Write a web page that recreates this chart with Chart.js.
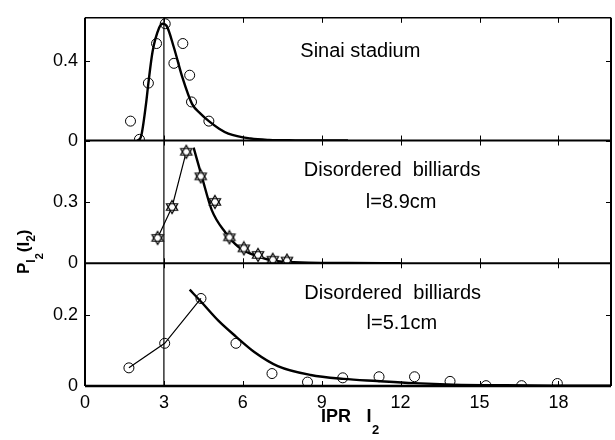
<!DOCTYPE html>
<html>
<head>
<meta charset="utf-8">
<script src="https://cdn.jsdelivr.net/npm/chart.js@4.4.1/dist/chart.umd.min.js"></script>
<style>
  html, body { margin: 0; padding: 0; background: #fff; overflow: hidden; }
  #wrap { width: 618px; height: 440px; }
</style>
</head>
<body>
<div id="wrap"><canvas id="myChart"></canvas></div>
<script>
// x axis
const xTicks = [0, 3, 6, 9, 12, 15, 18];

// Sinai stadium (top panel)
const sinaiX = [1.73, 2.07, 2.41, 2.72, 3.05, 3.38, 3.72, 3.98, 4.05, 4.71];
const sinaiY = [0.098, 0.006, 0.29, 0.49, 0.59, 0.39, 0.49, 0.33, 0.195, 0.098];
const sinaiFitX = [2.0, 2.13, 2.32, 2.41, 2.57, 2.82, 2.95, 3.1, 3.38, 3.7, 4.07, 4.4, 4.71, 5.1, 5.45, 6.3, 7.0, 8.0, 10];
const sinaiFitY = [0, 0.02, 0.185, 0.29, 0.45, 0.57, 0.59, 0.58, 0.47, 0.32, 0.185, 0.135, 0.098, 0.06, 0.035, 0.01, 0.003, 0.001, 0];
const topTicks = [0, 0.4];

// disordered billiards l=8.9cm (middle panel)
const starX = [2.76, 3.31, 3.85, 4.4, 4.94, 5.49, 6.04, 6.58, 7.14, 7.68];
const starY = [0.124, 0.275, 0.545, 0.425, 0.30, 0.127, 0.073, 0.041, 0.017, 0.013];
const starFitX = [4.13, 4.45, 4.82, 5.33, 5.83, 6.58, 7.33, 8.5, 10, 12];
const starFitY = [0.565, 0.42, 0.26, 0.152, 0.081, 0.033, 0.01, 0.003, 0.001, 0];
const midTicks = [0, 0.3];

// disordered billiards l=5.1cm (bottom panel)
const circX = [1.67, 3.03, 4.41, 5.74, 7.11, 8.46, 9.8, 11.18, 12.53, 13.88, 15.25, 16.6, 17.96];
const circY = [0.051, 0.12, 0.246, 0.12, 0.035, 0.011, 0.023, 0.026, 0.026, 0.013, 0.001, 0.001, 0.007];
const circFitX = [3.98, 4.45, 5.08, 5.74, 6.45, 7.33, 8.58, 9.83, 11.1, 12.5, 14, 16, 18, 20];
const circFitY = [0.271, 0.234, 0.183, 0.139, 0.095, 0.056, 0.031, 0.02, 0.014, 0.008, 0.004, 0.002, 0.001, 0.0005];
const botTicks = [0, 0.2];

const markerLine = 3; // vertical guide at IPR = 3

const FONT = "'Liberation Sans', Arial, Helvetica, sans-serif";

function pts(xs, ys){
    return xs.map((x, i) => ({x: x, y: ys[i]}));
}

// six pointed star marker
function makeStar(){
    const c = document.createElement('canvas');
    c.width = 16; c.height = 16;
    const g = c.getContext('2d');
    g.strokeStyle = '#000';
    g.fillStyle = '#fff';
    g.lineWidth = 1.2;
    const r = 6.5;
    const tri = a0 => {
        g.beginPath();
        for(let k = 0; k < 3; k++){
            const a = a0 + k * 2 * Math.PI / 3;
            const px = 8 + r * Math.cos(a), py = 8 + r * Math.sin(a);
            if(k == 0) g.moveTo(px, py); else g.lineTo(px, py);
        }
        g.closePath();
    };
    tri(-Math.PI/2); g.fill();
    tri(Math.PI/2); g.fill();
    tri(-Math.PI/2); g.stroke();
    tri(Math.PI/2); g.stroke();
    return c;
}
const starImg = makeStar();

function circles(xs, ys, axis){
    return {
        data: pts(xs, ys), yAxisID: axis, showLine: false,
        pointStyle: 'circle', pointRadius: 5, pointBorderWidth: 1,
        pointBorderColor: '#000', pointBackgroundColor: 'rgba(0,0,0,0)'
    };
}
function fit(xs, ys, axis){
    return {
        data: pts(xs, ys), yAxisID: axis, showLine: true, borderColor: '#000', borderWidth: 2.4,
        pointRadius: 0, cubicInterpolationMode: 'monotone', fill: false
    };
}
function thin(xs, ys, axis){
    return {
        data: pts(xs, ys), yAxisID: axis, showLine: true, borderColor: '#000', borderWidth: 1.2,
        pointRadius: 0, tension: 0, fill: false
    };
}

function yScale(ticks, max, weight){
    return {
        type: 'linear', position: 'left', stack: 'panels', stackWeight: 1, weight: weight,
        min: 0, max: max,
        grid: { display: false, drawTicks: false },
        border: { display: false },
        afterBuildTicks: s => { s.ticks = ticks.map(v => ({value: v})); },
        afterFit: s => { s.width = 85; },
        ticks: {
            color: '#000', padding: 7,
            font: { family: FONT, size: 18 },
            callback: v => String(v)
        }
    };
}

const frame = {
    id: 'frame',
    afterDraw(chart){
        const ctx = chart.ctx;
        const a = chart.chartArea;
        const xs = chart.scales.x;
        const panels = [
            [chart.scales.yTop, topTicks],
            [chart.scales.yMid, midTicks],
            [chart.scales.yBot, botTicks]
        ];
        ctx.save();
        ctx.strokeStyle = '#000';
        // left and right borders
        ctx.lineWidth = 2;
        ctx.beginPath(); ctx.moveTo(a.left, a.top); ctx.lineTo(a.left, a.bottom); ctx.stroke();
        ctx.beginPath(); ctx.moveTo(a.right, a.top); ctx.lineTo(a.right, a.bottom); ctx.stroke();
        // top border
        ctx.lineWidth = 1.5;
        ctx.beginPath(); ctx.moveTo(a.left, a.top); ctx.lineTo(a.right, a.top); ctx.stroke();
        // panel bottoms
        panels.forEach(([s], i) => {
            ctx.lineWidth = i == 2 ? 2.5 : 2;
            const y = s.getPixelForValue(0);
            ctx.beginPath(); ctx.moveTo(a.left, y); ctx.lineTo(a.right, y); ctx.stroke();
        });
        // y ticks, inward on both sides
        ctx.lineWidth = 1;
        panels.forEach(([s, t]) => {
            t.forEach(v => {
                const y = Math.round(s.getPixelForValue(v)) + 0.5;
                ctx.beginPath();
                ctx.moveTo(a.left, y); ctx.lineTo(a.left + 5, y);
                ctx.moveTo(a.right, y); ctx.lineTo(a.right - 5, y);
                ctx.stroke();
            });
        });
        // x ticks
        xTicks.forEach(v => {
            if(v == 0) return;
            const x = Math.round(xs.getPixelForValue(v)) + 0.5;
            ctx.beginPath();
            ctx.moveTo(x, a.top); ctx.lineTo(x, a.top + 5);
            panels.forEach(([s], i) => {
                const y = s.getPixelForValue(0);
                ctx.moveTo(x, y - 5); ctx.lineTo(x, i == 2 ? y : y + 5);
            });
            ctx.stroke();
        });

        // panel captions
        ctx.fillStyle = '#000';
        ctx.textAlign = 'center';
        ctx.textBaseline = 'middle';
        ctx.font = '20px ' + FONT;
        const put = (txt, xv, s, yv) => ctx.fillText(txt, xs.getPixelForValue(xv), s.getPixelForValue(yv));
        put('Sinai stadium', 10.47, chart.scales.yTop, 0.448);
        put('Disordered  billiards', 11.68, chart.scales.yMid, 0.455);
        put('l=8.9cm', 12.02, chart.scales.yMid, 0.297);
        put('Disordered  billiards', 11.7, chart.scales.yBot, 0.261);
        put('l=5.1cm', 12.05, chart.scales.yBot, 0.175);

        // x title: IPR I_2
        ctx.textAlign = 'left';
        ctx.textBaseline = 'alphabetic';
        ctx.font = 'bold 18px ' + FONT;
        ctx.fillText('IPR', 321, 422);
        ctx.fillText('I', 366.5, 422);
        ctx.font = 'bold 13px ' + FONT;
        ctx.fillText('2', 372, 434);

        // y title: P_{I_2}(I_2), rotated
        ctx.translate(29, 274);
        ctx.rotate(-Math.PI / 2);
        let cx = 0;
        const seg = (txt, size, dy) => {
            ctx.font = 'bold ' + size + 'px ' + FONT;
            ctx.fillText(txt, cx, dy);
            cx += ctx.measureText(txt).width;
        };
        seg('P', 17, 0);
        seg('I', 12, 6);
        seg('2', 11, 14);
        cx += 1;
        seg('(I', 17, 0);
        seg('2', 12, 6);
        seg(')', 17, 0);
        ctx.restore();
    }
};

const ctx = document.querySelector('#myChart').getContext('2d');
const myChart = new Chart(ctx, {
    type: 'scatter',
    data: {
        datasets: [
            circles(sinaiX, sinaiY, 'yTop'),
            fit(sinaiFitX, sinaiFitY, 'yTop'),
            {
                data: pts(starX, starY), yAxisID: 'yMid', showLine: false,
                pointStyle: starImg, pointRadius: 6
            },
            thin(starX.slice(0, 3), starY.slice(0, 3), 'yMid'),
            fit(starFitX, starFitY, 'yMid'),
            circles(circX, circY, 'yBot'),
            thin(circX.slice(0, 3), circY.slice(0, 3), 'yBot'),
            fit(circFitX, circFitY, 'yBot'),
            thin([markerLine, markerLine], [0, 0.62], 'yTop'),
            thin([markerLine, markerLine], [0, 0.6], 'yMid'),
            thin([markerLine, markerLine], [0, 0.345], 'yBot')
        ]
    },
    options: {
        responsive: true,
        maintainAspectRatio: false,
        animation: false,
        layout: { padding: { top: 13, right: 2.5, left: 0, bottom: 0 } },
        plugins: { legend: { display: false }, tooltip: { enabled: false } },
        scales: {
            x: {
                type: 'linear', min: 0, max: 20,
                grid: { display: false, drawTicks: false },
                border: { display: false },
                afterBuildTicks: s => { s.ticks = xTicks.map(v => ({value: v})); },
                afterFit: s => { s.height = 54; },
                ticks: {
                    color: '#000', padding: 6, maxRotation: 0,
                    font: { family: FONT, size: 18 },
                    callback: v => String(v)
                }
            },
            yBot: yScale(botTicks, 0.345, 1),
            yMid: yScale(midTicks, 0.6, 2),
            yTop: yScale(topTicks, 0.62, 3)
        }
    },
    plugins: [frame]
});
</script>
</body>
</html>
